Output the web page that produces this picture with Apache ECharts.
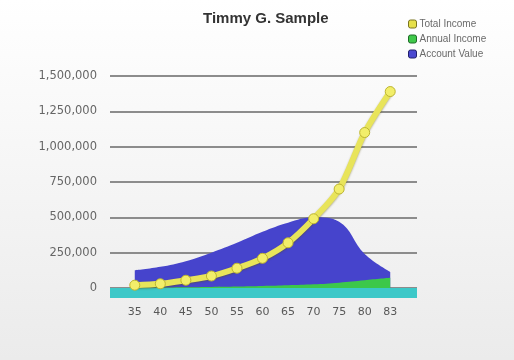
<!DOCTYPE html>
<html>
<head>
<meta charset="utf-8">
<script src="https://cdn.jsdelivr.net/npm/echarts@6/dist/echarts.min.js"></script>
<style>
  html, body { margin: 0; padding: 0; }
  #chart { width: 514px; height: 360px; }
</style>
</head>
<body>
<div id="chart"></div>
<script>
// Ages shown along the bottom axis
const ages = ['35', '40', '45', '50', '55', '60', '65', '70', '75', '80', '83'];

// Series values (dollars)
const totalIncome   = [20000, 30000, 55000, 85000, 140000, 210000, 320000, 490000, 700000, 1100000, 1390000];
const annualIncome  = [2000, 3000, 5000, 7000, 10000, 14000, 19000, 26000, 38000, 55000, 72000];
const accountValue  = [125000, 150000, 190000, 250000, 320000, 398000, 462000, 500000, 469000, 240000, 114000];

// Value axis ticks
const yTicks = [0, 250000, 500000, 750000, 1000000, 1250000, 1500000];

const chart = echarts.init(document.getElementById('chart'), null, { renderer: 'canvas' });

const plotTop = 76, plotBottom = 72;
const yMin = yTicks[0], yMax = yTicks[yTicks.length - 1], yStep = yTicks[1] - yTicks[0];

chart.setOption({
  animation: false,
  backgroundColor: {
    type: 'linear', x: 0, y: 0, x2: 0, y2: 1,
    colorStops: [{ offset: 0, color: '#ffffff' }, { offset: 1, color: '#ebebeb' }]
  },
  title: {
    text: 'Timmy G. Sample',
    left: 198, top: 6,
    textStyle: { fontFamily: 'Liberation Sans', fontWeight: 'bold', fontSize: 15, color: '#333' }
  },
  legend: {
    orient: 'vertical', left: 403, top: 14,
    itemWidth: 8, itemHeight: 8, itemGap: 5,
    icon: 'roundRect',
    textStyle: { fontFamily: 'Liberation Sans', fontSize: 10, color: '#6a6a6a', padding: [0, 0, 0, -2] },
    data: [
      { name: 'Total Income', itemStyle: { color: '#e6e04a', borderColor: '#7a7420', borderWidth: 1 } },
      { name: 'Annual Income', itemStyle: { color: '#3fc84a', borderColor: '#1f6a28', borderWidth: 1 } },
      { name: 'Account Value', itemStyle: { color: '#4a48d0', borderColor: '#22206a', borderWidth: 1 } }
    ]
  },
  grid: [
    { left: 110, right: 97, top: plotTop, bottom: plotBottom },
    { left: 122, right: 111, top: plotTop, bottom: plotBottom }
  ],
  xAxis: [
    { gridIndex: 0, type: 'category', data: ages, show: false },
    {
      gridIndex: 1, type: 'category', data: ages, boundaryGap: true,
      axisLine: { show: false }, axisTick: { show: false },
      axisLabel: { margin: 19, fontFamily: 'DejaVu Sans', fontSize: 11, color: '#585858' }
    }
  ],
  yAxis: [
    {
      gridIndex: 0, type: 'value', min: yMin, max: yMax, interval: yStep,
      axisLine: { show: false }, axisTick: { show: false },
      axisLabel: {
        margin: 13, fontFamily: 'DejaVu Sans', fontSize: 11.5, color: '#666',
        formatter: v => v.toLocaleString('en-US')
      },
      splitLine: { lineStyle: { color: '#8c8c8c', width: 2 } }
    },
    { gridIndex: 1, type: 'value', min: yMin, max: yMax, interval: yStep, show: false, splitLine: { show: false } }
  ],
  graphic: [
    // floor strip beneath the plot
    {
      type: 'rect', z: 1,
      shape: { x: 110, y: 360 - plotBottom, width: 307, height: 10 },
      style: { fill: '#3cc8c8' }
    }
  ],
  series: [
    {
      name: 'Account Value', type: 'line', xAxisIndex: 1, yAxisIndex: 1,
      data: accountValue, smooth: 0.4, showSymbol: false, symbol: 'none',
      lineStyle: { width: 0 },
      itemStyle: { color: '#4a48d0' },
      areaStyle: { color: '#4644cc', opacity: 1 },
      z: 2
    },
    {
      name: 'Annual Income', type: 'line', xAxisIndex: 1, yAxisIndex: 1,
      data: annualIncome, smooth: 0.4, showSymbol: false, symbol: 'none',
      lineStyle: { width: 0 },
      itemStyle: { color: '#3fc84a' },
      areaStyle: { color: '#3cc84a', opacity: 1 },
      z: 3
    },
    {
      name: 'Total Income', type: 'line', xAxisIndex: 1, yAxisIndex: 1,
      data: totalIncome, smooth: 0.3,
      symbol: 'circle', symbolSize: 10,
      lineStyle: { width: 6, color: '#e8e45a', shadowColor: 'rgba(90,80,0,0.45)', shadowBlur: 2, shadowOffsetY: 1 },
      itemStyle: { color: '#f2ee6a', borderColor: '#bdb530', borderWidth: 1 },
      z: 4
    }
  ]
});
</script>
</body>
</html>
